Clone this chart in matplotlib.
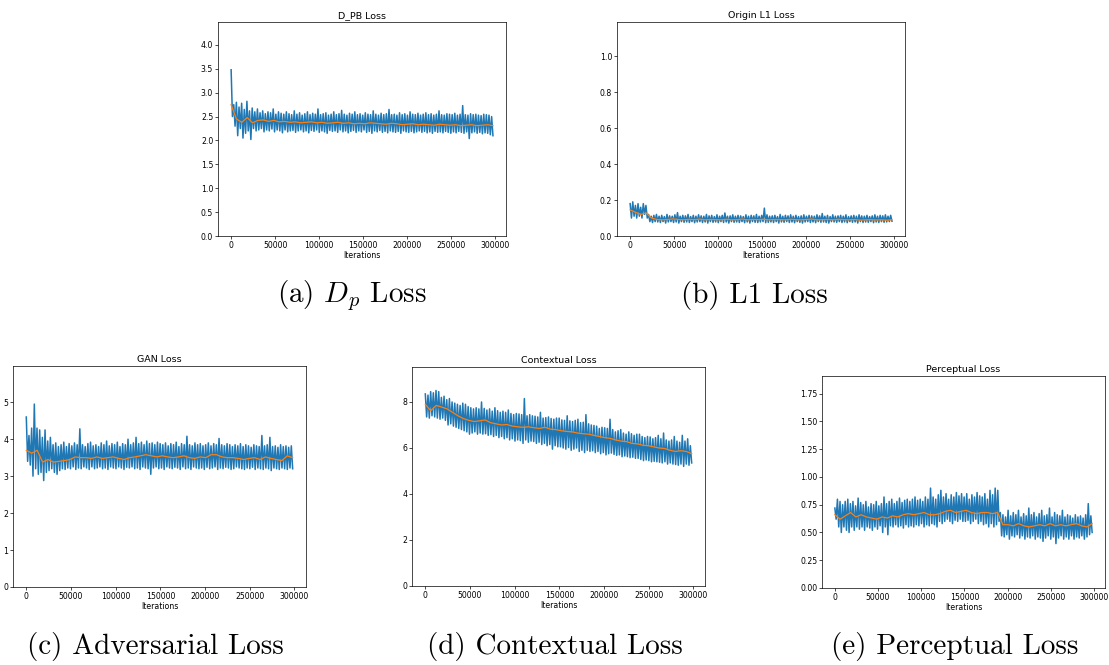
import numpy as np
import matplotlib
matplotlib.use('Agg')
import matplotlib.pyplot as plt

plt.rcParams['mathtext.fontset'] = 'cm'

# last logged iteration
last_iter = 298000

# raw loss (blue): upper and lower swing of each logging window
dpb_hi = [3.48, 2.75, 2.80, 2.70, 2.78, 2.65, 2.82, 2.62, 2.68, 2.60,
          2.66, 2.58, 2.62, 2.56, 2.60, 2.58, 2.66, 2.55, 2.60, 2.57,
          2.55, 2.60, 2.56, 2.54, 2.62, 2.55, 2.58, 2.53, 2.56, 2.60,
          2.54, 2.57, 2.55, 2.66, 2.54, 2.56, 2.58, 2.53, 2.55, 2.60,
          2.54, 2.56, 2.63, 2.55, 2.53, 2.57, 2.55, 2.60, 2.54, 2.56,
          2.53, 2.58, 2.55, 2.54, 2.62, 2.55, 2.53, 2.57, 2.54, 2.56,
          2.65, 2.54, 2.55, 2.53, 2.58, 2.54, 2.56, 2.53, 2.60, 2.55,
          2.54, 2.57, 2.53, 2.55, 2.58, 2.54, 2.56, 2.53, 2.55, 2.62,
          2.54, 2.53, 2.56, 2.55, 2.54, 2.57, 2.53, 2.55, 2.73, 2.54,
          2.53, 2.56, 2.54, 2.55, 2.53, 2.52, 2.55, 2.54, 2.53, 2.50]
dpb_lo = [2.50, 2.30, 2.10, 2.25, 2.05, 2.15, 2.20, 2.02, 2.25, 2.20,
          2.22, 2.25, 2.18, 2.22, 2.20, 2.24, 2.18, 2.22, 2.20, 2.16,
          2.22, 2.18, 2.20, 2.21, 2.17, 2.20, 2.22, 2.18, 2.20, 2.16,
          2.21, 2.19, 2.22, 2.17, 2.20, 2.18, 2.15, 2.21, 2.19, 2.20,
          2.17, 2.22, 2.18, 2.20, 2.16, 2.19, 2.21, 2.17, 2.20, 2.18,
          2.22, 2.17, 2.19, 2.15, 2.20, 2.18, 2.21, 2.17, 2.19, 2.16,
          2.20, 2.18, 2.17, 2.19, 2.15, 2.20, 2.18, 2.17, 2.19, 2.16,
          2.18, 2.20, 2.17, 2.19, 2.16, 2.18, 2.15, 2.19, 2.17, 2.18,
          2.16, 2.19, 2.17, 2.15, 2.18, 2.16, 2.19, 2.17, 2.15, 2.18,
          2.04, 2.16, 2.18, 2.15, 2.17, 2.14, 2.16, 2.15, 2.12, 2.10]
l1_hi = [0.18, 0.19, 0.17, 0.18, 0.16, 0.18, 0.17, 0.12, 0.11, 0.115,
         0.12, 0.11, 0.115, 0.108, 0.12, 0.112, 0.11, 0.118, 0.13, 0.11,
         0.115, 0.112, 0.12, 0.108, 0.115, 0.11, 0.118, 0.112, 0.11, 0.12,
         0.112, 0.115, 0.108, 0.118, 0.11, 0.115, 0.128, 0.11, 0.112, 0.118,
         0.11, 0.115, 0.112, 0.108, 0.118, 0.11, 0.115, 0.112, 0.12, 0.11,
         0.115, 0.155, 0.118, 0.11, 0.112, 0.115, 0.108, 0.12, 0.11, 0.115,
         0.112, 0.118, 0.11, 0.115, 0.108, 0.112, 0.118, 0.11, 0.115, 0.112,
         0.11, 0.118, 0.112, 0.125, 0.11, 0.115, 0.108, 0.118, 0.11, 0.112,
         0.115, 0.11, 0.118, 0.108, 0.112, 0.115, 0.11, 0.118, 0.112, 0.11,
         0.115, 0.108, 0.112, 0.118, 0.11, 0.115, 0.112, 0.118, 0.11, 0.115]
l1_lo = [0.10, 0.11, 0.10, 0.11, 0.10, 0.12, 0.10, 0.08, 0.075, 0.08,
         0.078, 0.075, 0.08, 0.072, 0.078, 0.08, 0.075, 0.078, 0.072, 0.08,
         0.076, 0.078, 0.075, 0.08, 0.074, 0.078, 0.08, 0.075, 0.078, 0.072,
         0.08, 0.076, 0.078, 0.074, 0.08, 0.075, 0.078, 0.072, 0.08, 0.076,
         0.078, 0.075, 0.08, 0.074, 0.078, 0.072, 0.08, 0.076, 0.075, 0.078,
         0.08, 0.074, 0.076, 0.078, 0.075, 0.08, 0.072, 0.078, 0.076, 0.08,
         0.075, 0.078, 0.074, 0.08, 0.076, 0.072, 0.078, 0.08, 0.075, 0.078,
         0.074, 0.08, 0.076, 0.078, 0.075, 0.072, 0.08, 0.078, 0.076, 0.08,
         0.075, 0.078, 0.074, 0.08, 0.076, 0.078, 0.072, 0.08, 0.075, 0.078,
         0.076, 0.08, 0.074, 0.078, 0.075, 0.08, 0.076, 0.078, 0.08, 0.082]
gan_hi = [4.60, 4.10, 4.30, 4.95, 4.30, 4.25, 4.05, 4.25, 3.95, 4.05,
          3.85, 3.90, 3.80, 3.85, 3.92, 3.80, 3.88, 3.82, 3.90, 3.85,
          4.28, 3.85, 3.80, 3.88, 3.92, 3.82, 3.85, 3.80, 3.90, 3.85,
          3.95, 3.82, 3.88, 3.85, 3.92, 3.80, 3.88, 3.85, 4.00, 3.85,
          3.90, 4.05, 3.88, 3.92, 3.85, 3.95, 3.88, 3.90, 3.85, 3.92,
          3.88, 3.85, 3.90, 3.82, 3.88, 3.85, 3.92, 3.80, 3.88, 3.85,
          4.08, 3.85, 3.82, 3.90, 3.85, 3.88, 3.82, 3.85, 3.90, 3.82,
          3.88, 3.85, 4.02, 3.85, 3.82, 3.88, 3.85, 3.80, 3.85, 3.82,
          3.88, 3.80, 3.85, 3.82, 3.78, 3.85, 3.82, 3.80, 4.10, 3.82,
          3.85, 4.05, 3.80, 3.82, 3.78, 3.85, 3.80, 3.82, 3.78, 3.82]
gan_lo = [3.40, 3.30, 3.00, 3.20, 3.05, 3.10, 2.88, 3.10, 3.15, 3.20,
          3.10, 3.05, 3.15, 3.20, 3.18, 3.22, 3.20, 3.25, 3.18, 3.22,
          3.20, 3.25, 3.22, 3.18, 3.25, 3.20, 3.22, 3.25, 3.20, 3.22,
          3.18, 3.25, 3.22, 3.20, 3.25, 3.22, 3.18, 3.24, 3.22, 3.25,
          3.20, 3.22, 3.18, 3.25, 3.22, 3.20, 3.05, 3.22, 3.25, 3.20,
          3.22, 3.18, 3.25, 3.22, 3.20, 3.24, 3.22, 3.18, 3.25, 3.20,
          3.22, 3.18, 3.25, 3.22, 3.20, 3.22, 3.18, 3.24, 3.20, 3.22,
          3.25, 3.18, 3.22, 3.20, 3.24, 3.22, 3.18, 3.20, 3.25, 3.22,
          3.20, 3.18, 3.22, 3.20, 3.24, 3.18, 3.22, 3.20, 3.18, 3.22,
          3.20, 3.15, 3.22, 3.20, 3.18, 3.22, 3.20, 3.18, 3.22, 3.20]
ctx_hi = [8.35, 8.30, 8.45, 8.40, 8.50, 8.45, 8.20, 8.25, 8.10, 8.15,
          8.00, 7.95, 7.90, 7.85, 7.95, 7.90, 7.80, 7.75, 7.70, 7.75,
          7.70, 8.00, 7.72, 7.65, 7.70, 7.60, 7.75, 7.62, 7.55, 7.60,
          7.55, 7.65, 7.50, 7.45, 7.50, 7.48, 7.45, 8.15, 7.40, 7.45,
          7.40, 7.38, 7.35, 7.55, 7.30, 7.32, 7.35, 7.28, 7.25, 7.30,
          7.30, 7.22, 7.20, 7.40, 7.18, 7.15, 7.20, 7.25, 7.10, 7.12,
          7.45, 7.05, 7.00, 6.98, 6.95, 6.85, 6.90, 6.88, 6.85, 7.25,
          6.80, 6.70, 6.75, 6.80, 6.65, 6.60, 6.70, 6.62, 6.55, 6.60,
          6.60, 6.50, 6.45, 6.50, 6.48, 6.40, 6.45, 6.55, 6.40, 6.65,
          6.35, 6.30, 6.35, 6.50, 6.30, 6.25, 6.55, 6.30, 6.40, 6.10]
ctx_lo = [7.35, 7.30, 7.40, 7.35, 7.30, 7.25, 7.30, 7.20, 7.00, 7.05,
          6.95, 6.90, 6.85, 6.80, 6.75, 6.70, 6.60, 6.65, 6.70, 6.60,
          6.65, 6.60, 6.62, 6.55, 6.58, 6.50, 6.55, 6.45, 6.50, 6.40,
          6.45, 6.35, 6.40, 6.30, 6.35, 6.32, 6.20, 6.35, 6.25, 6.30,
          6.28, 6.20, 6.25, 6.15, 6.20, 6.10, 6.15, 5.95, 6.10, 6.05,
          6.05, 6.00, 5.95, 6.02, 5.90, 5.95, 6.00, 5.85, 5.90, 5.80,
          5.90, 5.85, 5.88, 5.80, 5.85, 5.75, 5.80, 5.70, 5.75, 5.78,
          5.72, 5.68, 5.70, 5.62, 5.65, 5.62, 5.58, 5.60, 5.55, 5.55,
          5.50, 5.45, 5.48, 5.45, 5.40, 5.42, 5.40, 5.38, 5.35, 5.40,
          5.30, 5.35, 5.30, 5.28, 5.25, 5.30, 5.20, 5.30, 5.25, 5.35]
perc_hi = [0.72, 0.80, 0.78, 0.75, 0.78, 0.80, 0.76, 0.78, 0.74, 0.81,
           0.77, 0.75, 0.78, 0.73, 0.76, 0.75, 0.78, 0.74, 0.76, 0.82,
           0.76, 0.78, 0.80, 0.76, 0.78, 0.81, 0.77, 0.79, 0.80, 0.78,
           0.80, 0.82, 0.79, 0.80, 0.78, 0.82, 0.80, 0.90, 0.82, 0.80,
           0.84, 0.88, 0.82, 0.85, 0.80, 0.84, 0.82, 0.86, 0.83, 0.85,
           0.82, 0.85, 0.80, 0.84, 0.82, 0.86, 0.83, 0.82, 0.85, 0.80,
           0.88, 0.84, 0.90, 0.88, 0.68, 0.66, 0.64, 0.70, 0.65, 0.68,
           0.66, 0.70, 0.64, 0.67, 0.65, 0.72, 0.66, 0.68, 0.64, 0.67,
           0.70, 0.65, 0.66, 0.72, 0.64, 0.68, 0.66, 0.65, 0.70, 0.64,
           0.66, 0.65, 0.63, 0.66, 0.64, 0.65, 0.63, 0.66, 0.76, 0.65]
perc_lo = [0.62, 0.55, 0.50, 0.55, 0.52, 0.50, 0.55, 0.52, 0.55, 0.53,
           0.55, 0.52, 0.55, 0.54, 0.52, 0.55, 0.53, 0.56, 0.50, 0.55,
           0.48, 0.56, 0.55, 0.57, 0.55, 0.56, 0.54, 0.57, 0.55, 0.56,
           0.55, 0.57, 0.56, 0.58, 0.55, 0.57, 0.56, 0.58, 0.57, 0.55,
           0.60, 0.58, 0.60, 0.62, 0.60, 0.58, 0.61, 0.60, 0.62, 0.60,
           0.60, 0.61, 0.58, 0.60, 0.62, 0.58, 0.60, 0.57, 0.58, 0.55,
           0.58, 0.55, 0.57, 0.60, 0.47, 0.46, 0.48, 0.44, 0.47, 0.46,
           0.48, 0.45, 0.47, 0.44, 0.46, 0.45, 0.47, 0.44, 0.46, 0.45,
           0.42, 0.45, 0.47, 0.44, 0.46, 0.40, 0.45, 0.47, 0.44, 0.46,
           0.44, 0.47, 0.44, 0.46, 0.45, 0.47, 0.44, 0.46, 0.48, 0.50]

# smoothed loss values (orange)
dpb_avg = [2.75, 2.45, 2.38, 2.48, 2.37, 2.42, 2.43, 2.40, 2.42, 2.39, 2.40, 2.38, 2.39, 2.37, 2.38, 2.39,
           2.37, 2.38, 2.36, 2.37, 2.38, 2.36, 2.37, 2.35, 2.36, 2.35, 2.37, 2.36, 2.35, 2.34, 2.36, 2.35,
           2.33, 2.34, 2.35, 2.33, 2.34, 2.33, 2.32, 2.34, 2.33, 2.32, 2.33, 2.31, 2.32, 2.33, 2.31, 2.32,
           2.33, 2.31]
l1_avg = [0.145, 0.132, 0.12, 0.128, 0.10, 0.092, 0.09, 0.092, 0.095, 0.092, 0.09, 0.093, 0.091, 0.094, 0.09, 0.092,
          0.091, 0.09, 0.093, 0.09, 0.091, 0.094, 0.09, 0.092, 0.091, 0.093, 0.09, 0.092, 0.091, 0.09, 0.093, 0.091,
          0.09, 0.092, 0.094, 0.09, 0.091, 0.092, 0.09, 0.093, 0.091, 0.09, 0.092, 0.088, 0.09, 0.091, 0.089, 0.09,
          0.088, 0.09]
gan_avg = [3.70, 3.62, 3.70, 3.38, 3.45, 3.38, 3.40, 3.42, 3.45, 3.52, 3.50, 3.50, 3.48, 3.52, 3.48, 3.50,
           3.52, 3.48, 3.45, 3.50, 3.52, 3.55, 3.58, 3.55, 3.52, 3.55, 3.52, 3.50, 3.52, 3.55, 3.50, 3.48,
           3.52, 3.50, 3.58, 3.58, 3.52, 3.50, 3.50, 3.48, 3.45, 3.48, 3.50, 3.45, 3.52, 3.48, 3.45, 3.42,
           3.55, 3.50]
ctx_avg = [7.90, 7.62, 7.85, 7.78, 7.70, 7.55, 7.40, 7.28, 7.20, 7.15, 7.18, 7.22, 7.10, 7.05, 7.00, 7.02,
           6.95, 6.92, 6.90, 6.92, 6.88, 6.85, 6.90, 6.82, 6.80, 6.75, 6.72, 6.70, 6.65, 6.62, 6.60, 6.55,
           6.50, 6.45, 6.42, 6.35, 6.30, 6.28, 6.20, 6.18, 6.12, 6.10, 6.05, 6.00, 5.98, 5.90, 5.85, 5.88,
           5.85, 5.75]
perc_avg = [0.66, 0.62, 0.65, 0.68, 0.64, 0.66, 0.64, 0.63, 0.62, 0.64, 0.63, 0.65, 0.64, 0.66, 0.67, 0.66,
            0.67, 0.68, 0.66, 0.66, 0.67, 0.69, 0.70, 0.68, 0.69, 0.70, 0.68, 0.67, 0.68, 0.68, 0.67, 0.68,
            0.57, 0.57, 0.56, 0.58, 0.56, 0.55, 0.56, 0.57, 0.56, 0.58, 0.56, 0.57, 0.56, 0.57, 0.58, 0.56,
            0.55, 0.58]

titles = ['D_PB Loss', 'Origin L1 Loss', 'GAN Loss', 'Contextual Loss', 'Perceptual Loss']
captions = ['(a) $D_p$ Loss', '(b) L1 Loss', '(c) Adversarial Loss', '(d) Contextual Loss', '(e) Perceptual Loss']
ymax = [4.48, 1.19, 5.98, 9.52, 1.91]
yticks = [np.arange(0, 4.01, 0.5), np.arange(0, 1.01, 0.2), np.arange(0, 6, 1),
          np.arange(0, 9, 2), np.arange(0, 1.76, 0.25)]
yfmt = ['%.1f', '%.1f', '%d', '%d', '%.2f']
his = [dpb_hi, l1_hi, gan_hi, ctx_hi, perc_hi]
los = [dpb_lo, l1_lo, gan_lo, ctx_lo, perc_lo]
avgs = [dpb_avg, l1_avg, gan_avg, ctx_avg, perc_avg]

# axes boxes in figure fractions: left, bottom, width, height
boxes = [[0.1966, 0.6451, 0.2597, 0.3218],
         [0.5564, 0.6451, 0.2597, 0.3218],
         [0.0117, 0.1173, 0.2642, 0.3323],
         [0.3715, 0.1188, 0.2642, 0.3293],
         [0.7412, 0.1158, 0.2552, 0.3188]]
cap_pos = [(0.317, 0.556), (0.680, 0.556), (0.140, 0.028), (0.500, 0.028), (0.861, 0.028)]

fig = plt.figure(figsize=(11.09, 6.65), dpi=100)
fs = 5.6
for i in range(5):
    ax = fig.add_axes(boxes[i])
    # alternate the high/low swings to rebuild the noisy raw curve
    raw = np.column_stack([his[i], los[i]]).ravel()
    avg = avgs[i]
    ax.plot(np.linspace(0, last_iter, len(raw)), raw, color='#1f77b4', lw=1.1)
    ax.plot(np.linspace(0, last_iter, len(avg)), avg, color='#ff7f0e', lw=0.9)
    ax.set_ylim(0, ymax[i])
    ax.set_yticks(yticks[i])
    ax.set_yticklabels([yfmt[i] % v for v in yticks[i]])
    ax.set_xticks([0, 50000, 100000, 150000, 200000, 250000, 300000])
    ax.tick_params(labelsize=fs, length=2, width=0.5, pad=1.5)
    for s in ax.spines.values():
        s.set_linewidth(0.5)
    ax.set_title(titles[i], fontsize=6.8, pad=3)
    ax.set_xlabel('Iterations', fontsize=fs, labelpad=1)
    fig.text(cap_pos[i][0], cap_pos[i][1], captions[i], fontsize=21, family='cmr10',
             ha='center', va='center')

fig.savefig('out.png', dpi=100)
